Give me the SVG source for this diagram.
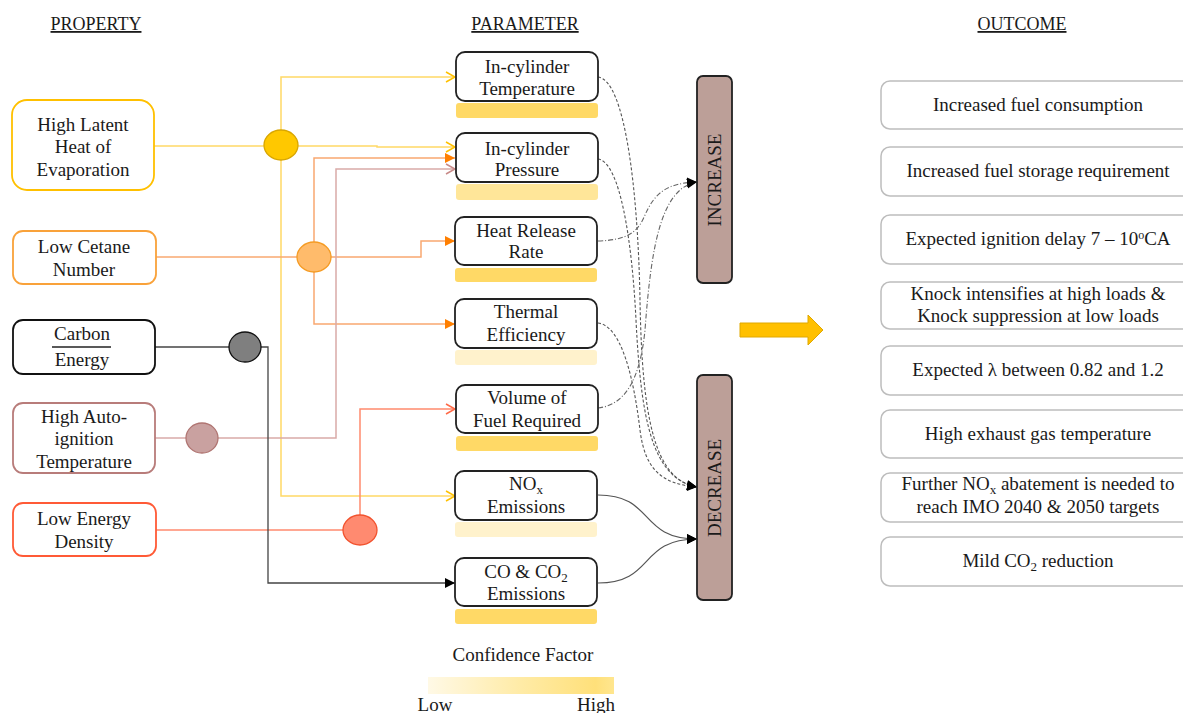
<svg xmlns="http://www.w3.org/2000/svg" width="1183" height="713" viewBox="0 0 1183 713">
<defs>
<style>
text{font-family:"Liberation Serif","Times New Roman",serif;font-size:19px;fill:#1a1a1a;text-anchor:middle}
.hdr{text-decoration:underline;font-size:18px}
.pbox{fill:#fff;stroke-width:1.8}
.par{fill:#fff;stroke:#222;stroke-width:1.8}
.out{fill:#fff;stroke:#bdbdbd;stroke-width:1.5}
.ind{fill:#bc9f98;stroke:#222;stroke-width:1.8}
.y{fill:none;stroke:#ffd966;stroke-width:1.5}
.o{fill:none;stroke:#f9a870;stroke-width:1.5}
.r{fill:none;stroke:#d9aaa8;stroke-width:1.5}
.s{fill:none;stroke:#ff8a6e;stroke-width:1.5}
.g{fill:none;stroke:#444;stroke-width:1.3}
.dash{fill:none;stroke:#555;stroke-width:1.1;stroke-dasharray:3 2}
.dd{fill:none;stroke:#666;stroke-width:1.1;stroke-dasharray:5 2 1 2}
.sol{fill:none;stroke:#555;stroke-width:1.2}
.sub{font-size:13px}
</style>
<marker id="aY" markerWidth="12" markerHeight="12" refX="10" refY="6" orient="auto" markerUnits="userSpaceOnUse"><path d="M1,1 L10,6 L1,11" fill="none" stroke="#ffc000" stroke-width="1.5"/></marker>
<marker id="aO" markerWidth="12" markerHeight="12" refX="10" refY="6" orient="auto" markerUnits="userSpaceOnUse"><path d="M0,1 L10,6 L0,11 Z" fill="#ff7f00"/></marker>
<marker id="aR" markerWidth="12" markerHeight="12" refX="10" refY="6" orient="auto" markerUnits="userSpaceOnUse"><path d="M1,1 L10,6 L1,11" fill="none" stroke="#c88a88" stroke-width="1.5"/></marker>
<marker id="aS" markerWidth="12" markerHeight="12" refX="10" refY="6" orient="auto" markerUnits="userSpaceOnUse"><path d="M1,1 L10,6 L1,11" fill="none" stroke="#ff6a48" stroke-width="1.5"/></marker>
<marker id="aK" markerWidth="12" markerHeight="12" refX="10" refY="6" orient="auto" markerUnits="userSpaceOnUse"><path d="M0,1 L10,6 L0,11 Z" fill="#000"/></marker>
<linearGradient id="cf" x1="0" x2="1" y1="0" y2="0">
<stop offset="0" stop-color="#fff9e6"/>
<stop offset="0.5" stop-color="#ffeba6"/>
<stop offset="0.9" stop-color="#ffe07a"/>
<stop offset="1" stop-color="#ffe68f"/>
</linearGradient>
</defs>
<rect width="1183" height="713" fill="#fff"/>

<g id="headers">
<text class="hdr" x="96" y="30">PROPERTY</text>
<text class="hdr" x="525" y="30">PARAMETER</text>
<text class="hdr" x="1022" y="30">OUTCOME</text>
</g>

<g id="connectors">
<path class="y" d="M154,146 H264"/>
<path class="y" d="M298,146 H377 V147 H455" marker-end="url(#aY)"/>
<path class="y" d="M281,130 V77 H455" marker-end="url(#aY)"/>
<path class="y" d="M281,160 V496 H455" marker-end="url(#aY)"/>
<path class="o" d="M156,257 H297"/>
<path class="o" d="M314,242 V158 H455" marker-end="url(#aO)"/>
<path class="o" d="M331,257 H421 V241 H455" marker-end="url(#aO)"/>
<path class="o" d="M314,272 V324 H455" marker-end="url(#aO)"/>
<path class="r" d="M155,438 H186"/>
<path class="r" d="M218,438 H336 V169 H455" marker-end="url(#aR)"/>
<path class="s" d="M156,530 H343"/>
<path class="s" d="M360,515 V409 H455" marker-end="url(#aS)"/>
<path class="g" d="M155,347 H229"/>
<path class="g" d="M261,347 H268 V583 H455" marker-end="url(#aK)"/>
<path class="dash" d="M598,77 C625,80 638,190 640,300 C642,420 655,480 697,487" marker-end="url(#aK)"/>
<path class="dash" d="M598,159 C620,162 632,240 636,320 C641,420 652,478 697,487" marker-end="url(#aK)"/>
<path class="dash" d="M598,323 C622,326 634,380 640,430 C645,470 662,484 697,487" marker-end="url(#aK)"/>
<path class="dd" d="M598,241 C628,240 638,232 645,215 C655,192 668,183 697,182" marker-end="url(#aK)"/>
<path class="dd" d="M598,408 C625,405 640,380 645,330 C651,250 660,188 697,182" marker-end="url(#aK)"/>
<path class="sol" d="M598,495 C655,495 638,539 697,539" marker-end="url(#aK)"/>
<path class="sol" d="M598,583 C655,583 638,539 697,539" marker-end="url(#aK)"/>
</g>

<g id="junction-latent"><ellipse cx="281" cy="145" rx="17" ry="15" fill="#ffc800" stroke="#d9a600" stroke-width="1.3"/></g>
<g id="junction-cetane"><ellipse cx="314" cy="257" rx="17" ry="15" fill="#ffbb6b" stroke="#f59b23" stroke-width="1.3"/></g>
<g id="junction-carbon"><ellipse cx="245" cy="347" rx="16" ry="15" fill="#7f7f7f" stroke="#111" stroke-width="1.3"/></g>
<g id="junction-autoign"><ellipse cx="202" cy="438" rx="16" ry="15" fill="#c9a1a0" stroke="#b07572" stroke-width="1.3"/></g>
<g id="junction-energy"><ellipse cx="360" cy="530" rx="17" ry="15" fill="#ff8a70" stroke="#f2522e" stroke-width="1.3"/></g>

<g id="prop-latent">
<rect class="pbox" x="12" y="100" width="142" height="90" rx="15" stroke="#ffc000"/>
<text x="83" y="131">High Latent</text>
<text x="83" y="153">Heat of</text>
<text x="83" y="176">Evaporation</text>
</g>
<g id="prop-cetane">
<rect class="pbox" x="13" y="231" width="143" height="53" rx="10" stroke="#f9a23a"/>
<text x="84" y="253">Low Cetane</text>
<text x="84" y="276">Number</text>
</g>
<g id="prop-carbon">
<rect class="pbox" x="13" y="320" width="142" height="54" rx="10" stroke="#111"/>
<text x="82" y="340">Carbon</text>
<line x1="52" y1="347" x2="111" y2="347" stroke="#222" stroke-width="1.5"/>
<text x="82" y="366">Energy</text>
</g>
<g id="prop-autoign">
<rect class="pbox" x="13" y="403" width="142" height="70" rx="10" stroke="#b87c7a"/>
<text x="84" y="423">High Auto-</text>
<text x="84" y="445">ignition</text>
<text x="84" y="468">Temperature</text>
</g>
<g id="prop-energy">
<rect class="pbox" x="13" y="503" width="143" height="53" rx="10" stroke="#ff5a36"/>
<text x="84" y="525">Low Energy</text>
<text x="84" y="548">Density</text>
</g>

<g id="par-temp">
<rect x="456" y="103" width="142" height="15" rx="3" fill="#ffd966"/>
<rect class="par" x="456" y="52" width="142" height="49" rx="9"/>
<text x="527" y="73">In-cylinder</text>
<text x="527" y="95">Temperature</text>
</g>
<g id="par-pres">
<rect x="456" y="184" width="142" height="16" rx="3" fill="#ffe699"/>
<rect class="par" x="456" y="133" width="142" height="49" rx="9"/>
<text x="527" y="155">In-cylinder</text>
<text x="527" y="176">Pressure</text>
</g>
<g id="par-hrr">
<rect x="455" y="268" width="142" height="14" rx="3" fill="#ffd966"/>
<rect class="par" x="455" y="217" width="142" height="48" rx="9"/>
<text x="526" y="237">Heat Release</text>
<text x="526" y="258">Rate</text>
</g>
<g id="par-eff">
<rect x="455" y="350" width="142" height="15" rx="3" fill="#fff2cc"/>
<rect class="par" x="455" y="299" width="142" height="49" rx="9"/>
<text x="526" y="318">Thermal</text>
<text x="526" y="341">Efficiency</text>
</g>
<g id="par-vol">
<rect x="456" y="436" width="142" height="15" rx="3" fill="#ffd966"/>
<rect class="par" x="456" y="385" width="142" height="48" rx="9"/>
<text x="527" y="404">Volume of</text>
<text x="527" y="427">Fuel Required</text>
</g>
<g id="par-nox">
<rect x="455" y="522" width="142" height="15" rx="3" fill="#fff2cc"/>
<rect class="par" x="455" y="471" width="142" height="49" rx="9"/>
<text x="526" y="490">NO<tspan class="sub" dy="4">x</tspan></text>
<text x="526" y="513">Emissions</text>
</g>
<g id="par-co">
<rect x="455" y="609" width="142" height="15" rx="3" fill="#ffd966"/>
<rect class="par" x="455" y="558" width="142" height="48" rx="9"/>
<text x="526" y="578">CO &amp; CO<tspan class="sub" dy="4">2</tspan></text>
<text x="526" y="600">Emissions</text>
</g>

<g id="increase">
<rect class="ind" x="697" y="76" width="35" height="207" rx="6"/>
<text transform="translate(721,180) rotate(-90)" font-size="18.5">INCREASE</text>
</g>
<g id="decrease">
<rect class="ind" x="697" y="375" width="35" height="225" rx="6"/>
<text transform="translate(721,488) rotate(-90)" font-size="18.5">DECREASE</text>
</g>

<g id="big-arrow">
<path d="M740,323 H808 V315 L823,330 L808,345 V337 H740 Z" fill="#ffc000" stroke="#e0a800" stroke-width="1"/>
</g>

<g id="out-1"><rect class="out" x="881" y="81" width="320" height="48" rx="9"/><text x="1038" y="111">Increased fuel consumption</text></g>
<g id="out-2"><rect class="out" x="881" y="147" width="320" height="49" rx="9"/><text x="1038" y="177">Increased fuel storage requirement</text></g>
<g id="out-3"><rect class="out" x="881" y="215" width="320" height="49" rx="9"/><text x="1038" y="245">Expected ignition delay 7 – 10<tspan font-size="12" dy="-6">o</tspan><tspan dy="6">CA</tspan></text></g>
<g id="out-4"><rect class="out" x="881" y="282" width="320" height="47" rx="9"/><text x="1038" y="300">Knock intensifies at high loads &amp;</text><text x="1038" y="322">Knock suppression at low loads</text></g>
<g id="out-5"><rect class="out" x="881" y="346" width="320" height="49" rx="9"/><text x="1038" y="376">Expected λ between 0.82 and 1.2</text></g>
<g id="out-6"><rect class="out" x="881" y="410" width="320" height="48" rx="9"/><text x="1038" y="440">High exhaust gas temperature</text></g>
<g id="out-7"><rect class="out" x="881" y="473" width="320" height="49" rx="9"/><text x="1038" y="490">Further NO<tspan class="sub" dy="4">x</tspan><tspan dy="-4"> abatement is needed to</tspan></text><text x="1038" y="513">reach IMO 2040 &amp; 2050 targets</text></g>
<g id="out-8"><rect class="out" x="881" y="537" width="320" height="49" rx="9"/><text x="1038" y="567">Mild CO<tspan class="sub" dy="4">2</tspan><tspan dy="-4"> reduction</tspan></text></g>

<g id="legend">
<text x="523" y="661" font-size="16">Confidence Factor</text>
<rect x="428" y="677" width="186" height="17" fill="url(#cf)"/>
<text x="435" y="711" font-size="13.5">Low</text>
<text x="596" y="711" font-size="13.5">High</text>
</g>
</svg>
